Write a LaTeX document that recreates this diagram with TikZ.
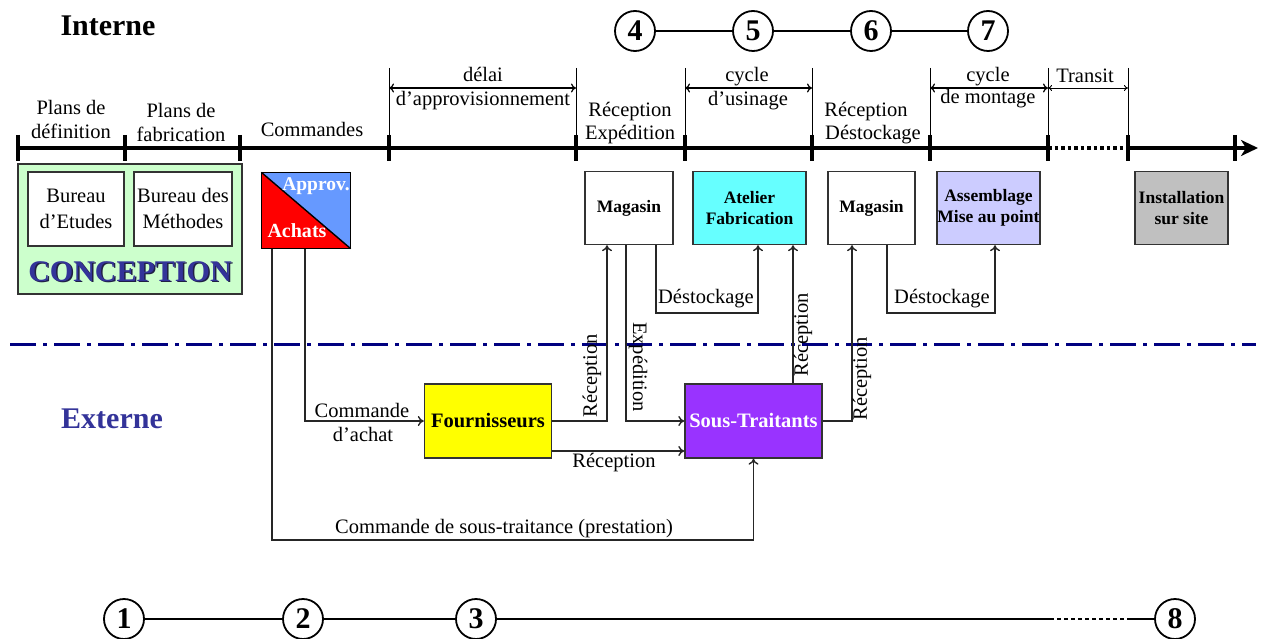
\documentclass[tikz,border=0pt]{standalone}
\usepackage{fontspec}
\setmainfont{Liberation Serif}
\usetikzlibrary{arrows.meta,calc}
\definecolor{cgreen}{HTML}{CCFFCC}
\definecolor{cblue}{HTML}{6699FF}
\definecolor{ccyan}{HTML}{66FFFF}
\definecolor{clav}{HTML}{CCCCFF}
\definecolor{cgray}{HTML}{C0C0C0}
\definecolor{cyel}{HTML}{FFFF00}
\definecolor{cpurp}{HTML}{9933FF}
\definecolor{cnavy}{HTML}{000080}
\definecolor{ctext}{HTML}{333399}
\definecolor{cshadow}{HTML}{202045}
\begin{document}
\begin{tikzpicture}[x=1pt,y=-1pt,
  txt/.style={font=\fontsize{20.5}{23}\selectfont, inner sep=0pt, anchor=base},
  rtxt/.style={font=\fontsize{20.5}{23}\selectfont, inner sep=0pt, anchor=center},
  box/.style={draw=black!80, line width=1.4pt, inner sep=0pt, align=center},
  bbox/.style={box, font=\fontsize{17.5}{21}\selectfont\bfseries},
  conn/.style={draw=black!85, line width=1.4pt},
  arr/.style={conn, -{To[length=6pt,width=10pt]}},
  dim/.style={draw=black, line width=0.9pt},
  dimarr/.style={draw=black, line width=1.2pt, {To[length=5pt,width=9pt]}-{To[length=5pt,width=9pt]}},
  tick/.style={draw=black, line width=4pt},
  numc/.style={circle, draw=black, line width=1.8pt, minimum size=40pt, inner sep=0pt,
    font=\fontsize{30}{30}\selectfont\bfseries},
  big/.style={font=\fontsize{30}{30}\selectfont\bfseries, inner sep=0pt, anchor=base}
]
\useasboundingbox (0,0) rectangle (1263,639);

% headings
\node[big] (interne) at (108,36) {Interne};
\node[big, text=ctext] (externe) at (112,428) {Externe};

% top circles
\node[numc] (c4) at (635,31) {4};
\node[numc] (c5) at (753,31) {5};
\node[numc] (c6) at (871,31) {6};
\node[numc] (c7) at (988,31) {7};
\draw[line width=1.3pt] (c4) -- (c5) (c5) -- (c6) (c6) -- (c7);

% bottom circles
\node[numc] (c1) at (124,619) {1};
\node[numc] (c2) at (303,619) {2};
\node[numc] (c3) at (476,619) {3};
\node[numc] (c8) at (1175,619) {8};
\coordinate (b1) at (1050,619);
\coordinate (b2) at (1130,619);
\draw[line width=1.3pt] (c1) -- (c2) (c2) -- (c3) (c3) -- (b1) (b2) -- (c8);
\draw[line width=1.3pt, dash pattern=on 4pt off 3pt] (b1) -- (b2);

% main axis
\coordinate (a0) at (18,148);
\coordinate (a1) at (1048,148);
\coordinate (a2) at (1128,148);
\coordinate (a3) at (1258,148);
\draw[line width=3.5pt] (a0) -- (a1);
\draw[line width=3.5pt, dash pattern=on 3.5pt off 3pt] (a1) -- (a2);
\draw[line width=3.5pt, -{Stealth[length=17pt,width=16pt,inset=5pt]}] (a2) -- (a3);
\foreach \x in {18,125,240,389,576,685,812,930,1048,1128,1235}
  \draw[tick] (\x,135) -- (\x,161);

% dimension lines
\foreach \x in {389,576,685,812,930,1048,1128}
  \draw[dim] (\x,68) -- (\x,148);
\draw[dimarr] (389,88) -- (576,88);
\draw[dimarr] (685,88) -- (812,88);
\draw[dimarr] (930,88) -- (1048,88);
\draw[dim, {To[length=4pt,width=6pt]}-{To[length=4pt,width=6pt]}] (1048,88) -- (1128,88);

% axis labels
\node[txt] (pd1) at (71,115) {Plans de};
\node[txt] (pd2) at (71,139) {définition};
\node[txt] (pf1) at (181,118) {Plans de};
\node[txt] (pf2) at (181,142) {fabrication};
\node[txt] (cmd) at (312,137) {Commandes};
\node[txt] (dl1) at (483,82) {délai};
\node[txt] (dl2) at (483,106) {d’approvisionnement};
\node[txt] (re1) at (630,117) {Réception};
\node[txt] (re2) at (630,140) {Expédition};
\node[txt] (cu1) at (747,82) {cycle};
\node[txt] (cu2) at (748,106) {d’usinage};
\node[txt] (rd1) at (866,117) {Réception};
\node[txt] (rd2) at (873,140) {Déstockage};
\node[txt] (cm1) at (988,82) {cycle};
\node[txt] (cm2) at (988,104) {de montage};
\node[txt] (tr) at (1085,83) {Transit};

% conception
\node[box, fill=cgreen, minimum width=224pt, minimum height=130pt] (concep) at (130,229) {};
\node[box, fill=white, minimum width=96pt, minimum height=74pt] (be) at (76,209) {};
\node[box, fill=white, minimum width=98pt, minimum height=74pt] (bm) at (183,209) {};
\node[txt] (be1) at (76,203) {Bureau};
\node[txt] (be2) at (76,228) {d’Etudes};
\node[txt] (bm1) at (183,203) {Bureau des};
\node[txt] (bm2) at (183,228) {Méthodes};
\node[big, text=cshadow] (cshad) at (131.5,282.5) {CONCEPTION};
\node[big, text=ctext] (ctitle) at (130,281) {CONCEPTION};

% approv / achats
\node[box, minimum width=88pt, minimum height=75pt] (approv) at (306,210.5) {};
\fill[cblue] (approv.north west) -- (approv.north east) -- (approv.south east) -- cycle;
\fill[red] (approv.north west) -- (approv.south west) -- (approv.south east) -- cycle;
\draw[line width=1.4pt] (approv.north west) rectangle (approv.south east);
\draw[line width=1.4pt] (approv.north west) -- (approv.south east);
\node[font=\fontsize{19.5}{20}\selectfont\bfseries, text=white, inner sep=0pt, anchor=base] (apt) at (316,191) {Approv.};
\node[font=\fontsize{20}{20}\selectfont\bfseries, text=white, inner sep=0pt, anchor=base] (ach) at (297,237) {Achats};

% internal boxes
\node[bbox, fill=white, minimum width=88pt, minimum height=73pt] (mag1) at (629,208) {Magasin};
\node[bbox, fill=ccyan, minimum width=113pt, minimum height=73pt] (atel) at (749.5,208) {Atelier\\Fabrication};
\node[bbox, fill=white, minimum width=87pt, minimum height=73pt] (mag2) at (871.5,208) {Magasin};
\node[bbox, fill=clav, minimum width=103pt, minimum height=73pt] (assem) at (988.5,208) {Assemblage\\Mise au point};
\node[bbox, fill=cgray, minimum width=93pt, minimum height=73pt] (inst) at (1181.5,208) {Installation\\sur site};

% external boxes
\node[box, fill=cyel, minimum width=127pt, minimum height=74pt, font=\fontsize{20.5}{23}\selectfont\bfseries] (four) at (488,421) {Fournisseurs};
\node[box, fill=cpurp, minimum width=137pt, minimum height=74pt, text=white, font=\fontsize{20.5}{23}\selectfont\bfseries] (sous) at (753.5,421) {Sous-Traitants};

% separator
\draw[cnavy, line width=3pt, dash pattern=on 26pt off 7pt on 4pt off 7pt] (10,344) -- (1256,344);

% connectors
\draw[arr] ([xshift=-1pt]approv.south) |- (four.west);
\coordinate (cst) at (753.5,540);
\draw[arr] ([xshift=-34pt]approv.south) |- (cst) -- (sous.south);
\draw[arr] (four.east) -| ([xshift=-22pt]mag1.south);
\draw[arr] ([yshift=-30pt]four.east) -- ([yshift=-30pt]sous.west);
\draw[arr] ([xshift=-3pt]mag1.south) |- (sous.west);
\coordinate (d1) at (758,313);
\draw[arr] ([xshift=27pt]mag1.south) |- (d1) -- (d1 |- atel.south);
\coordinate (x793) at (793,0);
\draw[arr] (sous.north -| x793) -- (atel.south -| x793);
\draw[arr] (sous.east) -| ([xshift=-19.5pt]mag2.south);
\coordinate (d2) at (995,313);
\draw[arr] ([xshift=15.5pt]mag2.south) |- (d2) -- (d2 |- assem.south);

% connector labels
\node[txt] (l1) at (362,417) {Commande};
\node[txt] (l2) at (363,441) {d’achat};
\node[txt] (l3) at (504,533) {Commande de sous-traitance (prestation)};
\node[txt] (l4) at (614,467) {Réception};
\node[txt] (l5) at (706,303) {Déstockage};
\node[txt] (l6) at (942,303) {Déstockage};
\node[rtxt, rotate=90] (l7) at (592,376) {Réception};
\node[rtxt, rotate=-90] (l8) at (638,367) {Expédition};
\node[rtxt, rotate=90] (l9) at (803,335) {Réception};
\node[rtxt, rotate=90] (l10) at (862,379) {Réception};
\end{tikzpicture}
\end{document}
